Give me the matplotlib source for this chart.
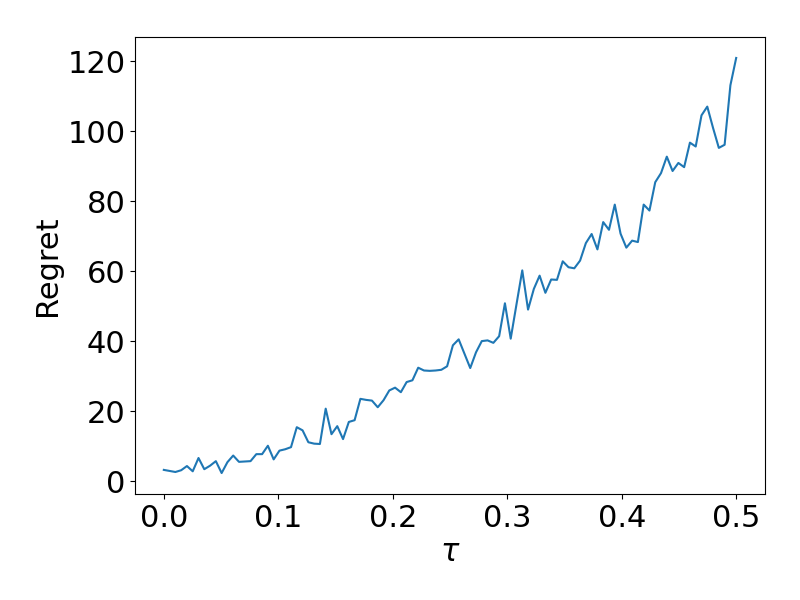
import numpy as np
import matplotlib
matplotlib.use("Agg")
import matplotlib.pyplot as plt

# tau grid: 100 points from 0 to 0.5
tau = np.linspace(0, 0.5, 100)

# regret values
regret = [
    3.3, 3.0, 2.7, 3.2, 4.4, 2.9, 6.7, 3.5, 4.5, 5.8,
    2.4, 5.5, 7.4, 5.6, 5.7, 5.8, 7.8, 7.8, 10.2, 6.3,
    8.8, 9.2, 9.8, 15.5, 14.6, 11.2, 10.8, 10.7, 20.8, 13.5,
    15.8, 12.1, 17.0, 17.5, 23.6, 23.3, 23.1, 21.2, 23.2, 26.0,
    26.8, 25.5, 28.4, 28.9, 32.5, 31.7, 31.6, 31.7, 31.9, 32.9,
    38.9, 40.6, 36.5, 32.4, 36.9, 40.1, 40.3, 39.6, 41.5, 50.9,
    40.8, 50.6, 60.3, 49.1, 55.0, 58.8, 53.9, 57.7, 57.6, 62.9,
    61.2, 60.9, 63.1, 68.1, 70.7, 66.3, 74.1, 71.9, 79.1, 70.8,
    66.8, 68.8, 68.4, 79.1, 77.4, 85.5, 88.1, 92.8, 88.7, 91.0,
    89.8, 96.8, 95.7, 104.6, 107.1, 101.0, 95.3, 96.2, 113.2, 121.0,
]

plt.rcParams['font.size'] = 22

fig, ax = plt.subplots(figsize=(8, 6), dpi=100)
ax.plot(tau, regret)
ax.set_xlabel(r'$\tau$')
ax.set_ylabel('Regret')
ax.set_yticks([0, 20, 40, 60, 80, 100, 120])
fig.subplots_adjust(left=0.169, right=0.956, top=0.938, bottom=0.177)
fig.savefig("out.png")
